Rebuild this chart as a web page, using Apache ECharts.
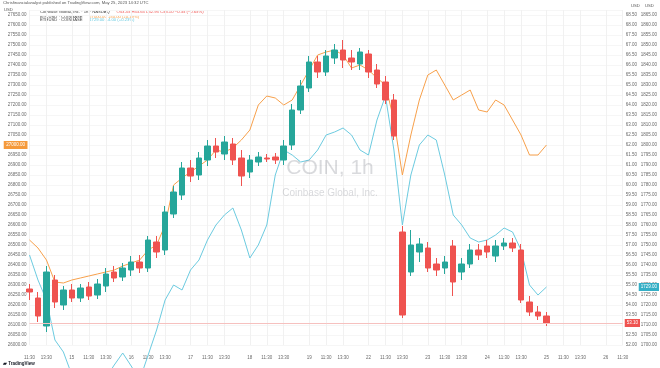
<!DOCTYPE html>
<html><head><meta charset="utf-8">
<script src="https://cdn.jsdelivr.net/npm/echarts@6/dist/echarts.min.js"></script>
<style>html,body{margin:0;padding:0;background:#fff}#c{width:660px;height:368px}</style>
</head><body><div id="c"></div>
<script>
// time-axis tick labels, one per hourly slot (empty = no label)
const xTickLabels = [
 "11:30","","13:30","","",
 "15","","11:30","","13:30","","",
 "16","","11:30","","13:30","","",
 "17","","11:30","","13:30","","",
 "18","","11:30","","13:30","","",
 "19","","11:30","","13:30","","",
 "22","","11:30","","13:30","","",
 "23","","11:30","","13:30","","",
 "24","","11:30","","13:30","","",
 "25","","11:30","","13:30","","",
 "26","","11:30"
];
// COIN 1h candles: [open, close, low, high]
const coinOHLC = [
 [54.80,54.65,54.25,55.05],[54.35,53.45,53.15,54.65],[52.95,55.65,52.65,55.95],[55.25,54.15,53.85,55.50],
 [54.00,54.75,53.75,54.95],[54.75,54.35,54.15,55.05],[54.35,54.85,54.15,55.05],[54.90,54.45,54.25,55.15],
 [54.50,55.05,54.30,55.30],[54.95,55.55,54.65,55.85],[55.65,55.35,55.15,55.95],[55.40,55.85,55.20,56.10],
 [55.75,56.15,55.45,56.45],[56.15,55.85,55.60,56.50],[55.85,57.25,55.65,57.45],[57.15,56.65,56.35,57.45],
 [56.75,58.65,56.50,58.95],[58.55,59.65,58.35,59.95],[59.50,60.85,59.25,61.15],[60.85,60.45,60.15,61.25],
 [60.50,61.35,60.25,61.65],[61.25,61.95,60.95,62.25],[61.95,61.65,61.35,62.35],[61.55,62.15,61.25,62.45],
 [62.05,61.25,61.00,62.35],[61.35,60.45,59.95,61.75],[60.65,61.25,60.35,61.50],[61.15,61.40,60.95,61.65],
 [61.35,61.30,61.15,61.55],[61.40,61.25,61.05,61.60],[61.25,61.95,61.00,62.25],[62.00,63.75,61.75,64.05],
 [63.75,64.95,63.55,65.25],[64.85,66.15,64.65,66.45],[66.15,65.65,65.35,66.45],[65.65,66.45,65.45,66.75],
 [66.35,66.75,66.05,67.05],[66.75,66.25,65.85,67.25],[66.35,66.15,65.75,66.75],[66.05,66.65,65.75,66.85],
 [66.55,65.65,65.35,66.75],[65.75,65.05,64.85,66.05],[65.15,64.25,64.05,65.45],[64.25,62.45,62.25,64.55],
 [57.65,53.50,53.35,57.95],[55.65,57.00,55.45,57.75],[56.65,57.05,56.15,57.35],[56.85,55.85,55.65,57.15],
 [56.05,55.75,55.45,56.35],[55.85,56.15,55.55,56.45],[56.95,55.15,54.45,57.25],[55.65,56.05,55.25,56.35],
 [56.05,56.75,55.85,57.05],[56.75,56.50,56.25,57.05],[56.95,56.65,56.35,57.25],[56.45,56.95,56.15,57.25],
 [56.95,57.10,56.75,57.35],[57.10,56.85,56.65,57.35],[56.75,54.25,54.10,57.05],[54.15,53.65,53.45,54.45],
 [53.65,53.45,53.25,53.95],[53.45,53.10,52.95,53.65]
];
// BTCUSD (Coinbase) closes, left scale
const btcClose = [
 26525,26485,26425,26315,26310,26325,26335,26345,26355,26365,26375,26395,26410,26425,26475,26500,
 26600,26800,26835,26865,26895,26925,26975,26965,26985,27025,27075,27200,27245,27235,27200,27225,
 27300,27375,27450,27465,27475,27450,27385,27400,27375,27335,27300,27125,26850,27050,27225,27350,
 27375,27300,27225,27250,27275,27175,27165,27225,27200,27125,27050,26950,26950,27000
];
// ETHUSD (Coinbase) closes, second right scale
const ethClose = [
 1745,1732.5,1722.5,1702.5,1696.5,1685,1677.5,1676.5,1680,1683.5,1690,1696,1689.5,1682.5,1695,1707.5,
 1722.5,1730,1727.5,1737.5,1742.5,1752.5,1760,1765,1768.5,1757.5,1743.5,1750,1760,1785,1797.5,1795,
 1791.5,1792.5,1797.5,1805,1806.5,1808.5,1805,1797.5,1795,1812.5,1824.5,1797.5,1760,1785,1800,1805,
 1802.5,1785,1765,1760,1753.5,1751.5,1752.5,1755,1758.5,1756.5,1747.5,1730,1725,1729
];
const eventBarIndex = 61;

const UP = '#26a69a', DOWN = '#ef5350', ORANGE = '#f7a04b', CYAN = '#6ccbe0';
const FONT = 'Liberation Sans, Roboto, sans-serif';
const last = coinOHLC[coinOHLC.length - 1];
const prevC = coinOHLC[coinOHLC.length - 2][1];
const lastBtc = btcClose[btcClose.length - 1], prevBtc = btcClose[btcClose.length - 2];
const lastEth = ethClose[ethClose.length - 1], prevEth = ethClose[ethClose.length - 2];
function chg(a, b) { const d = a - b; const s = d >= 0 ? '+' : '−'; return s + Math.abs(d).toFixed(2) + ' (' + s + Math.abs(d / b * 100).toFixed(2) + '%)'; }

const chart = echarts.init(document.getElementById('c'), null, { renderer: 'canvas' });
const axisLbl = { fontSize: 4.5, color: '#6a6a6a', fontFamily: FONT };
const HIDDEN = { color: 'rgba(0,0,0,0)', width: 1 };
chart.setOption({
  animation: false,
  backgroundColor: '#ffffff',
  textStyle: { fontFamily: FONT },
  title: [{
    text: 'COIN, 1h', left: 'center', top: 153,
    textStyle: { fontSize: 21, fontWeight: 'normal', color: 'rgba(120,123,134,0.28)', fontFamily: FONT }
  }, {
    text: 'Coinbase Global, Inc.', left: 'center', top: 183,
    textStyle: { fontSize: 10, fontWeight: 'normal', color: 'rgba(120,123,134,0.28)', fontFamily: FONT }
  }],
  graphic: [
    { type: 'text', left: 3, top: 1, style: { text: 'Chrisfinancialanalyst published on TradingView.com, May 25, 2023 14:32 UTC', fontSize: 4.2, fill: '#555', fontFamily: FONT } },
    { type: 'text', left: 4, top: 8, style: { text: 'USD', fontSize: 4.2, fill: '#555', fontFamily: FONT } },
    { type: 'text', left: 40, top: 6, style: { rich: { n: { fontSize: 4.2, fill: '#444' }, v: { fontSize: 4.2, fill: DOWN } },
      text: '{n|Coinbase Global, Inc. · 1h · NASDAQ}  {v|O' + last[0].toFixed(2) + ' H' + last[3].toFixed(2) + ' L' + last[2].toFixed(2) + ' C' + last[1].toFixed(2) + ' ' + chg(last[1], prevC) + '}' } },
    { type: 'text', left: 40, top: 10.5, style: { rich: { n: { fontSize: 4.2, fill: '#444' }, v: { fontSize: 4.2, fill: ORANGE } },
      text: '{n|BTCUSD · COINBASE}  {v|' + lastBtc.toFixed(2) + ' ' + chg(lastBtc, prevBtc) + '}' } },
    { type: 'text', left: 40, top: 14, style: { rich: { n: { fontSize: 4.2, fill: '#444' }, v: { fontSize: 4.2, fill: CYAN } },
      text: '{n|ETHUSD · COINBASE}  {v|' + lastEth.toFixed(2) + ' ' + chg(lastEth, prevEth) + '}' } },
    { type: 'text', left: 631, top: 4, style: { text: 'USD', fontSize: 4.2, fill: '#555', fontFamily: FONT } },
    { type: 'text', left: 645, top: 4, style: { text: 'USD', fontSize: 4.2, fill: '#555', fontFamily: FONT } },
    { type: 'text', left: 3, top: 361, style: { text: '▰ TradingView', fontSize: 4.5, fontWeight: 'bold', fill: '#131722', fontFamily: FONT } }
  ],
  grid: { left: 29.5, right: 35.5, top: 10, bottom: 23, containLabel: false },
  xAxis: {
    type: 'category', data: xTickLabels, boundaryGap: false,
    axisLine: { show: false }, axisTick: { show: false },
    axisLabel: { ...axisLbl, interval: 0, margin: 10, hideOverlap: false },
    splitLine: { show: true, interval: (i) => xTickLabels[i] !== '', lineStyle: { color: '#f1f1f1', width: 1 } }
  },
  yAxis: [{
    type: 'value', position: 'left', min: 26000, max: 27675, interval: 50, scale: true,
    axisLine: { show: false }, axisTick: { show: false },
    axisLabel: { ...axisLbl, margin: 3, showMaxLabel: false, formatter: v => v.toFixed(2) },
    splitLine: { show: true, lineStyle: { color: '#f6f6f6', width: 1 } }
  }, {
    type: 'value', position: 'right', min: 52, max: 68.75, interval: 0.5, scale: true,
    axisLine: { show: false }, axisTick: { show: false },
    axisLabel: { ...axisLbl, margin: 3, showMaxLabel: false, formatter: v => v.toFixed(2) },
    splitLine: { show: false }
  }, {
    type: 'value', position: 'right', offset: 15, min: 1700, max: 1867.5, interval: 5, scale: true,
    axisLine: { show: false }, axisTick: { show: false },
    axisLabel: { ...axisLbl, margin: 3, showMaxLabel: false, formatter: v => v.toFixed(2) },
    splitLine: { show: false }
  }],
  series: [{
    name: 'BTCUSD', type: 'line', yAxisIndex: 0, data: btcClose, symbol: 'none',
    lineStyle: { color: ORANGE, width: 1 }, itemStyle: { color: ORANGE }, z: 3,
    markLine: { silent: true, symbol: 'none', lineStyle: HIDDEN,
      label: { position: 'start', distance: 2, formatter: () => lastBtc.toFixed(2), backgroundColor: '#f59a3c', color: '#fff', fontSize: 4.5, padding: [1.5, 2.5] },
      data: [{ yAxis: lastBtc }] }
  }, {
    name: 'ETHUSD', type: 'line', yAxisIndex: 2, data: ethClose, symbol: 'none', clip: false,
    lineStyle: { color: CYAN, width: 1 }, itemStyle: { color: CYAN }, z: 3,
    markLine: { silent: true, symbol: 'none', lineStyle: HIDDEN,
      label: { position: 'end', distance: 16, formatter: () => lastEth.toFixed(2), backgroundColor: '#35afc6', color: '#fff', fontSize: 4.5, padding: [1.5, 2] },
      data: [{ yAxis: lastEth }] }
  }, {
    name: 'COIN', type: 'candlestick', yAxisIndex: 1, data: coinOHLC, barWidth: 6, z: 4,
    itemStyle: { color: UP, color0: DOWN, borderColor: UP, borderColor0: DOWN, borderWidth: 1 },
    markLine: { silent: true, symbol: 'none', lineStyle: { color: '#f6c1bf', type: 'solid', width: 1 },
      label: { position: 'end', distance: 2, formatter: () => last[1].toFixed(2), backgroundColor: DOWN, color: '#fff', fontSize: 4.5, padding: [1.5, 2] },
      data: [{ yAxis: last[1] }] },
    markPoint: { silent: true, symbol: 'circle', symbolSize: 7,
      itemStyle: { color: '#e3c6ee', borderColor: '#b985cf', borderWidth: 1 },
      label: { show: false },
      data: [{ coord: [eventBarIndex, 51.65] }] }
  }]
});
</script></body></html>
